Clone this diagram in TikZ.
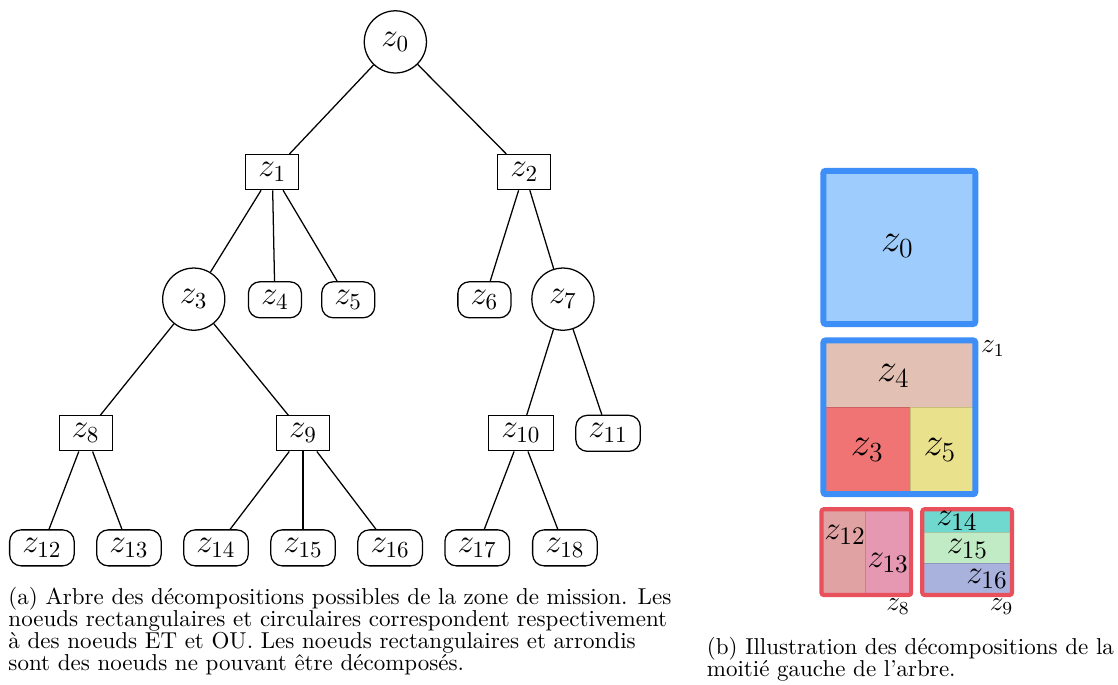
\documentclass[tikz,border=0pt]{standalone}
\usepackage{fontspec}
\definecolor{zblue}{RGB}{61,142,247}
\definecolor{zbluefill}{RGB}{158,204,252}
\definecolor{zred}{RGB}{232,81,91}
\definecolor{cqfour}{RGB}{226,192,180}
\definecolor{cqthree}{RGB}{240,116,116}
\definecolor{cqfive}{RGB}{233,225,140}
\definecolor{cqtwelve}{RGB}{224,162,162}
\definecolor{cqthirteen}{RGB}{230,151,178}
\definecolor{cqfourteen}{RGB}{111,216,207}
\definecolor{cqfifteen}{RGB}{193,235,196}
\definecolor{cqsixteen}{RGB}{169,178,221}
\begin{document}
\begin{tikzpicture}[line width=0.55pt,
        ounode/.style={circle, draw, minimum size=0.95cm, inner sep=0pt, font=\Large},
        etnode/.style={rectangle, draw, minimum height=0.535cm, inner xsep=5.5pt, inner ysep=2pt, font=\Large},
        lfnode/.style={rectangle, draw, rounded corners=5pt, minimum height=0.55cm, inner xsep=5.5pt, inner ysep=2pt, font=\Large},
        cell/.style={draw=#1!85!black, line width=0.3pt, fill=#1},
        zlbl/.style={inner sep=0pt},
        capt/.style={anchor=north west, inner sep=0pt, align=left, font=\fontsize{10}{9.6}\selectfont}]
        \useasboundingbox (0,0) rectangle (17.08,-10.45);
        % ---- arbre : niveau 0 et 1 ----
        \node[ounode] (z0) at (6.04, -0.64) {$z_0$};
        \node[etnode] (z1) at (4.16, -2.63) {$z_1$};
        \node[etnode] (z2) at (8.01, -2.63) {$z_2$};
        % ---- niveau 2 ----
        \node[ounode] (z3) at (2.96, -4.57) {$z_3$};
        \node[lfnode] (z4) at (4.20, -4.58) {$z_4$};
        \node[lfnode] (z5) at (5.32, -4.58) {$z_5$};
        \node[lfnode] (z6) at (7.40, -4.58) {$z_6$};
        \node[ounode] (z7) at (8.60, -4.57) {$z_7$};
        % ---- niveau 3 ----
        \node[etnode] (z8)  at (1.31, -6.62) {$z_8$};
        \node[etnode] (z9)  at (4.63, -6.62) {$z_9$};
        \node[etnode] (z10) at (7.96, -6.62) {$z_{10}$};
        \node[lfnode] (z11) at (9.29, -6.62) {$z_{11}$};
        % ---- feuilles ----
        \foreach \i/\x in {12/0.64, 13/1.97, 14/3.30, 15/4.63, 16/5.96, 17/7.29, 18/8.63}
          \node[lfnode] (z\i) at (\x, -8.37) {$z_{\i}$};
        % ---- aretes ----
        \foreach \a/\b in {z0/z1, z0/z2, z1/z3, z1/z4, z1/z5, z2/z6, z2/z7,
                           z3/z8, z3/z9, z7/z10, z7/z11, z8/z12, z8/z13,
                           z9/z14, z9/z15, z9/z16, z10/z17, z10/z18}
          \draw (\a) -- (\b);
        % ---- zone z0 ----
        \draw[zblue, line width=2.6pt, fill=zbluefill, rounded corners=1pt] (12.58, -2.61) rectangle (14.90, -4.95);
        \node[zlbl, font=\LARGE] (r0) at (13.71, -3.76) {$z_0$};
        % ---- zone z1 ----
        \draw[cell=cqfour]  (12.58, -5.20) rectangle (14.90, -6.23);
        \draw[cell=cqthree] (12.58, -6.23) rectangle (13.90, -7.55);
        \draw[cell=cqfive]  (13.90, -6.23) rectangle (14.90, -7.55);
        \draw[zblue, line width=2.6pt, rounded corners=1pt] (12.58, -5.20) rectangle (14.90, -7.55);
        \node[zlbl, font=\LARGE] (r4) at (13.65, -5.75) {$z_4$};
        \node[zlbl, font=\LARGE] (r3) at (13.25, -6.88) {$z_3$};
        \node[zlbl, font=\LARGE] (r5) at (14.36, -6.88) {$z_5$};
        \node[zlbl, font=\large] (r1) at (15.17, -5.33) {$z_1$};
        % ---- zone z8 ----
        \draw[cell=cqtwelve]   (12.55, -7.78) rectangle (13.22, -9.09);
        \draw[cell=cqthirteen] (13.22, -7.78) rectangle (13.92, -9.09);
        \draw[zred, line width=1.8pt, rounded corners=1pt] (12.55, -7.78) rectangle (13.92, -9.09);
        \node[zlbl, font=\fontsize{15}{18}\selectfont] (r12) at (12.91, -8.17) {$z_{12}$};
        \node[zlbl, font=\fontsize{15}{18}\selectfont] (r13) at (13.57, -8.60) {$z_{13}$};
        \node[zlbl, font=\large] (r8)  at (13.72, -9.26) {$z_8$};
        % ---- zone z9 ----
        \draw[cell=cqfourteen] (14.09, -7.78) rectangle (15.46, -8.14);
        \draw[cell=cqfifteen]  (14.09, -8.14) rectangle (15.46, -8.60);
        \draw[cell=cqsixteen]  (14.09, -8.60) rectangle (15.46, -9.09);
        \draw[zred, line width=1.8pt, rounded corners=1pt] (14.09, -7.78) rectangle (15.46, -9.09);
        \node[zlbl, font=\fontsize{15}{18}\selectfont] (r14) at (14.62, -7.96) {$z_{14}$};
        \node[zlbl, font=\fontsize{15}{18}\selectfont] (r15) at (14.78, -8.39) {$z_{15}$};
        \node[zlbl, font=\fontsize{15}{18}\selectfont] (r16) at (15.08, -8.85) {$z_{16}$};
        \node[zlbl, font=\large] (r9)  at (15.30, -9.26) {$z_9$};
        % ---- legendes ----
        \node[capt] (capa) at (0.12, -8.96) {(a) Arbre des décompositions possibles de la zone de mission. Les\\
          noeuds rectangulaires et circulaires correspondent respectivement\\
          à des noeuds ET et OU. Les noeuds rectangulaires et arrondis\\
          sont des noeuds ne pouvant être décomposés.};
        \node[capt] (capb) at (10.79, -9.72) {(b) Illustration des décompositions de la\\
          moitié gauche de l'arbre.};
\end{tikzpicture}
\end{document}
